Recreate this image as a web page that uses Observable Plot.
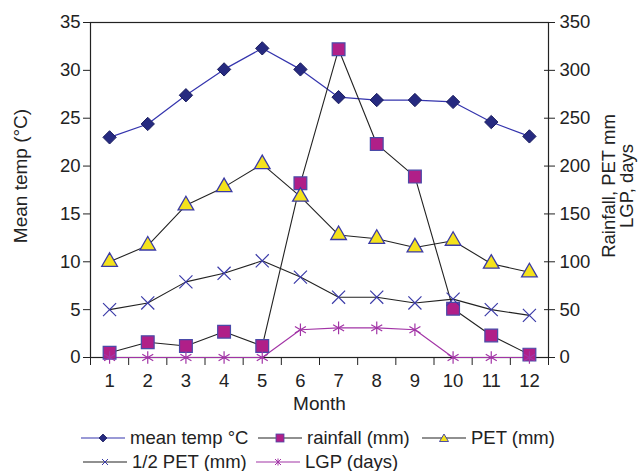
<!DOCTYPE html>
<html>
<head>
<meta charset="utf-8">
<script src="https://cdn.jsdelivr.net/npm/d3@7"></script>
<script src="https://cdn.jsdelivr.net/npm/@observablehq/plot@0.6"></script>
<style>
  html, body { margin: 0; padding: 0; background: #fff; }
  body { width: 639px; height: 471px; overflow: hidden; font-family: "Liberation Sans", Arial, sans-serif; color: #222; }
  #legend { position: relative; width: 639px; height: 51px; font-size: 18.5px; }
  .item { position: absolute; height: 22px; line-height: 22px; white-space: nowrap; display: flex; align-items: center; }
  .item svg { display: block; margin-right: 5px; }
</style>
</head>
<body>
<div id="chart"></div>
<div id="legend"></div>
<script>
const months = [1, 2, 3, 4, 5, 6, 7, 8, 9, 10, 11, 12];
const meanTemp = [23.0, 24.4, 27.4, 30.1, 32.3, 30.1, 27.2, 26.9, 26.9, 26.7, 24.6, 23.1];
const rainfall = [5, 16, 12, 27, 12, 182, 322, 223, 189, 51, 23, 3];
const pet = [100, 117, 159, 178, 202, 168, 128, 124, 115, 122, 98, 89];
const halfPet = [50, 57, 79, 88, 101, 84, 63, 63, 57, 61, 50, 44];
const lgp = [0, 0, 0, 0, 0, 29, 31, 31, 29, 0, 0, 0];
const leftTicks = [0, 5, 10, 15, 20, 25, 30, 35];
const rightTicks = [0, 50, 100, 150, 200, 250, 300, 350];
const monthBounds = [0.5, 1.5, 2.5, 3.5, 4.5, 5.5, 6.5, 7.5, 8.5, 9.5, 10.5, 11.5, 12.5];
const seriesNames = ["mean temp °C", "rainfall (mm)", "PET (mm)", "1/2 PET (mm)", "LGP (days)"];

// temp plotted on the right-axis scale (x10) so both axes share one y scale
const tempRows = months.map((m, i) => ({month: m, v: meanTemp[i] * 10}));
const rows = arr => months.map((m, i) => ({month: m, v: arr[i]}));

const styles = [
  {line: "#3434ad", lw: 1.2, symbol: "diamond2", r: 6, fill: "#262a80", stroke: "#1a1d5e", sw: 1},
  {line: "#222", lw: 1.1, symbol: "square", r: 7.2, fill: "#b01f88", stroke: "#4a4aa8", sw: 1.2},
  {line: "#222", lw: 1.1, symbol: "triangle", r: 5.8, fill: "#f4e21c", stroke: "#3a3aa6", sw: 1.3},
  {line: "#222", lw: 1.1, symbol: "times", r: 6, fill: "none", stroke: "#3b3ba8", sw: 1.2},
  {line: "#a234a6", lw: 1.1, symbol: "asterisk", r: 6, fill: "none", stroke: "#a234a6", sw: 1.2}
];
const datasets = [tempRows, rows(rainfall), rows(pet), rows(halfPet), rows(lgp)];

const marks = [
  Plot.frame({stroke: "#222", strokeWidth: 1.2}),
  Plot.axisX({ticks: monthBounds, tickSize: 8, tickFormat: () => "", label: null, stroke: "#222"}),
  Plot.axisX({ticks: months, tickSize: 0, tickPadding: 16, label: null, fontSize: 18.5}),
  Plot.axisY({anchor: "left", ticks: rightTicks, tickSize: 7, tickPadding: 3, label: null,
    tickFormat: d => leftTicks[rightTicks.indexOf(d)], fontSize: 18.5}),
  Plot.axisY({anchor: "right", ticks: rightTicks, tickSize: 11, dx: -5, tickPadding: 5, label: null, fontSize: 18.5}),
  Plot.text(["Month"], {frameAnchor: "bottom", dy: 52, fontSize: 19}),
  Plot.text(["Mean temp (°C)"], {frameAnchor: "left", textAnchor: "middle", rotate: -90, dx: -70, dy: -14, fontSize: 19}),
  Plot.text(["Rainfall, PET mm\nLGP, days"], {frameAnchor: "right", textAnchor: "middle", rotate: -90, dx: 70, dy: -4, fontSize: 18.5, lineHeight: 0.97})
];
datasets.forEach((data, k) => {
  const s = styles[k];
  marks.push(Plot.line(data, {x: "month", y: "v", stroke: s.line, strokeWidth: s.lw}));
});
datasets.forEach((data, k) => {
  const s = styles[k];
  marks.push(Plot.dot(data, {x: "month", y: "v", symbol: s.symbol, r: s.r, fill: s.fill, stroke: s.stroke, strokeWidth: s.sw}));
});

const chart = Plot.plot({
  width: 639,
  height: 420,
  marginLeft: 90,
  marginRight: 91,
  marginTop: 22,
  marginBottom: 63,
  x: {domain: [0.5, 12.5]},
  y: {domain: [0, 350]},
  style: {fontFamily: "'Liberation Sans', Arial, sans-serif", fontSize: "18.5px", color: "#222", background: "#fff", overflow: "visible"},
  marks
});
document.getElementById("chart").appendChild(chart);

// legend
const legendPos = [
  {left: 81, top: 7}, {left: 258, top: 7}, {left: 422, top: 7},
  {left: 83, top: 31}, {left: 256, top: 31}
];
const legendSym = {
  "diamond2": (c, s) => `<path d="M${c - 4},6 L${c},2 L${c + 4},6 L${c},10 Z" fill="${s.fill}" stroke="${s.stroke}" stroke-width="0.8"/>`,
  "square": (c, s) => `<rect x="${c - 4}" y="2" width="8" height="8" fill="${s.fill}" stroke="${s.stroke}" stroke-width="0.8"/>`,
  "triangle": (c, s) => `<path d="M${c - 4.5},9.5 L${c},2 L${c + 4.5},9.5 Z" fill="${s.fill}" stroke="${s.stroke}" stroke-width="0.9"/>`,
  "times": (c, s) => `<path d="M${c - 3},3 L${c + 3},9 M${c + 3},3 L${c - 3},9" stroke="${s.stroke}" stroke-width="1"/>`,
  "asterisk": (c, s) => `<path d="M${c - 3},3 L${c + 3},9 M${c + 3},3 L${c - 3},9 M${c},2.5 L${c},9.5" stroke="${s.stroke}" stroke-width="1"/>`
};
const legend = document.getElementById("legend");
seriesNames.forEach((name, k) => {
  const s = styles[k];
  const w = 44;
  const item = document.createElement("div");
  item.className = "item";
  item.style.left = legendPos[k].left + "px";
  item.style.top = legendPos[k].top + "px";
  item.innerHTML = `<svg width="${w}" height="12"><line x1="0" x2="${w}" y1="6" y2="6" stroke="${s.line}" stroke-width="1.2"/>${legendSym[s.symbol](w / 2, s)}</svg><span>${name}</span>`;
  legend.appendChild(item);
});
</script>
</body>
</html>
